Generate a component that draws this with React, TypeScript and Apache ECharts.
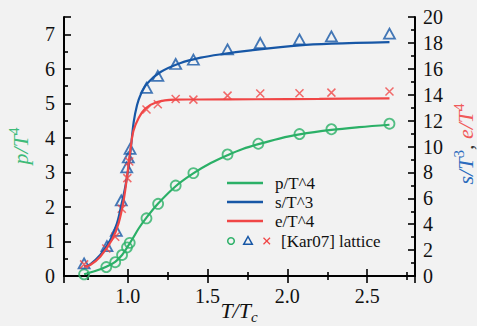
import React, { useEffect, useRef } from 'react';
import * as echarts from 'echarts';

// Lattice data [Kar07]
const latticeTp = [0.726, 0.865, 0.921, 0.964, 0.995, 1.012, 1.117, 1.19, 1.30, 1.411, 1.625, 1.818, 2.076, 2.276, 2.64];
const latticeP = [0.05, 0.26, 0.40, 0.61, 0.83, 0.96, 1.67, 2.09, 2.62, 2.98, 3.52, 3.83, 4.11, 4.25, 4.41];

const latticeTs = [0.726, 0.869, 0.928, 0.959, 0.993, 1.003, 1.014, 1.117, 1.188, 1.30, 1.411, 1.625, 1.83, 2.076, 2.276, 2.64];
const latticeS = [0.98, 2.31, 3.49, 5.83, 8.38, 9.15, 9.82, 14.52, 15.45, 16.37, 16.7, 17.5, 17.99, 18.27, 18.5, 18.71];

const latticeTe = [0.726, 0.865, 0.921, 0.962, 0.997, 1.009, 1.117, 1.188, 1.30, 1.411, 1.625, 1.83, 2.076, 2.276, 2.64];
const latticeE = [0.9, 2.13, 3.03, 5.19, 7.56, 8.84, 12.85, 13.26, 13.67, 13.62, 13.93, 14.09, 14.11, 14.16, 14.24];

// Model curves
const curveTp = [0.726, 0.80, 0.865, 0.921, 0.964, 0.995, 1.03, 1.07, 1.117, 1.19, 1.30, 1.41, 1.52, 1.625, 1.72, 1.818, 1.95, 2.076, 2.276, 2.45, 2.64];
const curveP = [0.05, 0.15, 0.27, 0.41, 0.61, 0.82, 1.08, 1.39, 1.69, 2.10, 2.60, 2.97, 3.27, 3.50, 3.68, 3.82, 3.98, 4.10, 4.23, 4.31, 4.38];

const curveTs = [0.726, 0.764, 0.827, 0.89, 0.932, 0.964, 0.984, 1.005, 1.02, 1.037, 1.058, 1.079, 1.121, 1.205, 1.331, 1.457, 1.583, 1.772, 2.076, 2.276, 2.64];
const curveS = [0.72, 0.9, 1.62, 2.78, 4.06, 5.73, 6.88, 8.43, 10.0, 11.9, 13.2, 13.96, 14.86, 15.75, 16.45, 16.86, 17.12, 17.42, 17.81, 17.94, 18.06];

const curveTe = [0.726, 0.764, 0.827, 0.9, 0.942, 0.974, 0.995, 1.016, 1.035, 1.068, 1.11, 1.184, 1.289, 1.457, 1.8, 2.2, 2.64];
const curveE = [0.72, 0.85, 1.49, 2.78, 4.06, 5.86, 7.66, 9.71, 11.2, 12.2, 12.93, 13.44, 13.62, 13.63, 13.65, 13.68, 13.72];

const legendNames = ['p/T^4', 's/T^3', 'e/T^4'];
const latticeLabel = '[Kar07] lattice';

const GREEN = '#2bb067';
const BLUE = '#1757a6';
const RED = '#f04646';
const SERIF = 'Liberation Serif, DejaVu Serif, serif';

const zip = (xs: number[], ys: number[]) => xs.map((x, i) => [x, ys[i]]);

export default function App() {
  const ref = useRef<HTMLDivElement>(null);
  useEffect(() => {
    document.body.style.margin = '0';
    const chart = echarts.init(ref.current!, null, { renderer: 'svg' });
    const tickLabel = { color: '#111', fontFamily: SERIF, fontSize: 20 };
    const axisLine = { show: true, lineStyle: { color: '#000', width: 2 } };
    const axisTick = { show: true, inside: true, length: 7, lineStyle: { color: '#000', width: 1.6 } };
    const minorTick = { show: true, splitNumber: 2, length: 4, lineStyle: { color: '#000', width: 1.6 } };
    const xFmt = (v: number) => (Math.abs(v * 2 - Math.round(v * 2)) < 1e-9 ? v.toFixed(1) : '');
    const mi = (c: string) => ({ fontFamily: SERIF, fontStyle: 'italic', fontSize: 22, lineHeight: 28, fill: c });
    const ms = (c: string) => ({ fontFamily: SERIF, fontSize: 15, verticalAlign: 'top', lineHeight: 15, fill: c });
    const mb = (c: string) => ({ fontFamily: SERIF, fontStyle: 'italic', fontSize: 15, verticalAlign: 'bottom', lineHeight: 12, fill: c });
    const legTxt = { fontFamily: SERIF, fontSize: 17, fill: '#111', verticalAlign: 'middle', align: 'left' };
    const lineSmooth = { smooth: 0.35, showSymbol: false };

    chart.setOption({
      animation: false,
      backgroundColor: '#f2f2f2',
      textStyle: { fontFamily: SERIF },
      grid: { left: 64, right: 62, top: 17, bottom: 50 },
      xAxis: [
        {
          type: 'value', min: 0.6, max: 2.8, minInterval: 0.5, maxInterval: 0.5,
          axisLine, axisTick, minorTick, splitLine: { show: false },
          axisLabel: { ...tickLabel, margin: 10, formatter: xFmt },
        },
        {
          type: 'value', position: 'top', min: 0.6, max: 2.8, minInterval: 0.5, maxInterval: 0.5,
          axisLine, axisTick, minorTick, splitLine: { show: false },
          axisLabel: { show: false },
        },
      ],
      yAxis: [
        {
          type: 'value', min: 0, max: 7.5, interval: 1,
          axisLine, axisTick, minorTick, splitLine: { show: false },
          axisLabel: { ...tickLabel, margin: 9, formatter: (v: number) => (Number.isInteger(v) ? String(v) : '') },
        },
        {
          type: 'value', position: 'right', min: 0, max: 20, interval: 2,
          axisLine, axisTick, minorTick, splitLine: { show: false },
          axisLabel: { ...tickLabel, margin: 8 },
        },
      ],
      series: [
        { name: legendNames[0], type: 'line', yAxisIndex: 0, data: zip(curveTp, curveP), ...lineSmooth, lineStyle: { color: GREEN, width: 2.2 } },
        { name: legendNames[1], type: 'line', yAxisIndex: 1, data: zip(curveTs, curveS), ...lineSmooth, lineStyle: { color: BLUE, width: 2.2 } },
        { name: legendNames[2], type: 'line', yAxisIndex: 1, data: zip(curveTe, curveE), ...lineSmooth, lineStyle: { color: RED, width: 2.2 } },
        { name: latticeLabel + ' p', type: 'scatter', yAxisIndex: 0, data: zip(latticeTp, latticeP), symbol: 'circle', symbolSize: 10, itemStyle: { color: 'transparent', borderColor: GREEN, borderWidth: 1.8 } },
        { name: latticeLabel + ' s', type: 'scatter', yAxisIndex: 1, data: zip(latticeTs, latticeS), symbol: 'triangle', symbolSize: [11, 10], itemStyle: { color: 'transparent', borderColor: BLUE, borderWidth: 1.8 } },
        { name: latticeLabel + ' e', type: 'scatter', yAxisIndex: 1, data: zip(latticeTe, latticeE), symbol: 'path://M0 0L10 10M10 0L0 10', symbolSize: 8, itemStyle: { color: 'transparent', borderColor: RED, borderWidth: 1.5 } },
      ],
      graphic: [
        { type: 'text', x: 20, y: 146, rotation: Math.PI / 2, style: { text: '{i|p/T}{s|4}', rich: { i: mi('#3dbb79'), s: ms('#3dbb79') }, fill: '#3dbb79', align: 'center', verticalAlign: 'middle' } },
        { type: 'text', x: 465, y: 144, rotation: Math.PI / 2, style: { text: '{bi|s/T}{bs|3}{k|, }{ri|e/T}{rs|4}', align: 'center', verticalAlign: 'middle',
          rich: { bi: mi('#2a6bbd'), bs: ms('#2a6bbd'), k: mi('#333'), ri: mi('#f05a5a'), rs: ms('#f05a5a') } } },
        { type: 'text', x: 239, y: 310, style: { text: '{i|T/T}{b|c}', rich: { i: mi('#111'), b: mb('#111') }, align: 'center', verticalAlign: 'middle' } },
        // legend
        { type: 'line', shape: { x1: 227, y1: 183, x2: 263, y2: 183 }, style: { stroke: GREEN, lineWidth: 2.5 } },
        { type: 'text', x: 275, y: 183, style: { ...legTxt, text: legendNames[0] } },
        { type: 'line', shape: { x1: 227, y1: 202, x2: 263, y2: 202 }, style: { stroke: BLUE, lineWidth: 2.5 } },
        { type: 'text', x: 275, y: 202, style: { ...legTxt, text: legendNames[1] } },
        { type: 'line', shape: { x1: 227, y1: 221, x2: 263, y2: 221 }, style: { stroke: RED, lineWidth: 2.5 } },
        { type: 'text', x: 275, y: 221, style: { ...legTxt, text: legendNames[2] } },
        { type: 'circle', shape: { cx: 231, cy: 241, r: 3.3 }, style: { fill: 'transparent', stroke: GREEN, lineWidth: 1.5 } },
        { type: 'polygon', shape: { points: [[248, 236.5], [252.3, 244.3], [243.7, 244.3]] }, style: { fill: 'transparent', stroke: BLUE, lineWidth: 1.5 } },
        { type: 'line', shape: { x1: 263.5, y1: 237.8, x2: 270, y2: 244.3 }, style: { stroke: RED, lineWidth: 1.3 } },
        { type: 'line', shape: { x1: 270, y1: 237.8, x2: 263.5, y2: 244.3 }, style: { stroke: RED, lineWidth: 1.3 } },
        { type: 'text', x: 281, y: 241, style: { ...legTxt, text: latticeLabel } },
      ],
    });
    return () => chart.dispose();
  }, []);
  return <div ref={ref} style={{ width: 477, height: 326, background: '#f2f2f2' }} />;
}
